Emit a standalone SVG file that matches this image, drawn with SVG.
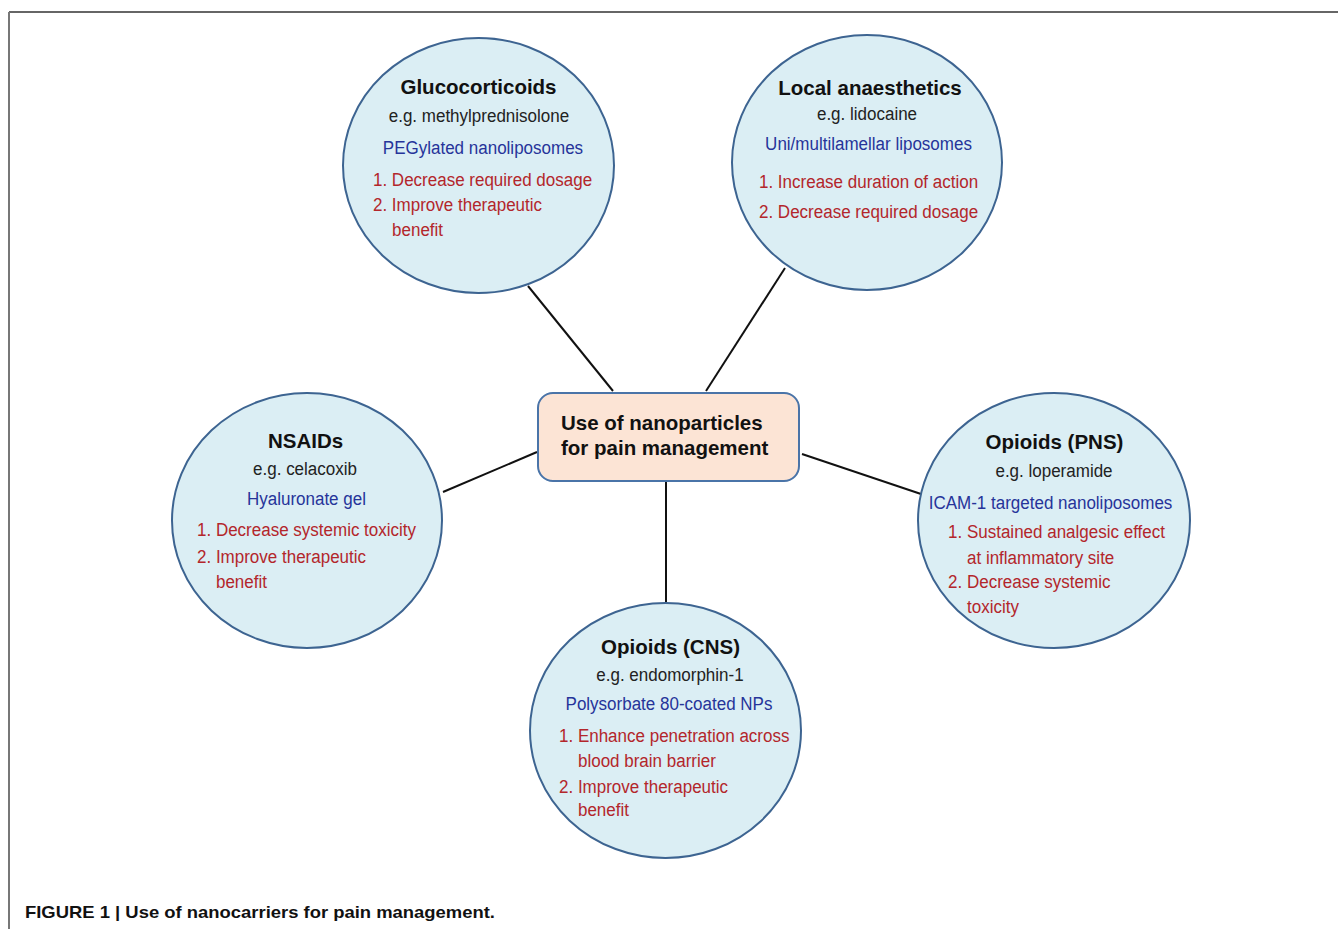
<svg xmlns="http://www.w3.org/2000/svg" width="1338" height="929" viewBox="0 0 1338 929">
<style>
.bub{fill:#dbeef4;stroke:#3d6491;stroke-width:2}
.hub{fill:#fce4d5;stroke:#4a74a8;stroke-width:2}
text{font-family:"Liberation Sans",Arial,sans-serif}
.h{font-size:20.5px;font-weight:bold;fill:#111;text-anchor:middle}
.eg{font-size:19px;fill:#222;text-anchor:middle}
.bl{font-size:19px;fill:#26349a;text-anchor:middle}
.rd{font-size:19px;fill:#b3262b}
.cap{font-size:17px;font-weight:bold;fill:#111}
.ln{stroke:#111;stroke-width:2;fill:none}
</style>
<rect x="0" y="0" width="1338" height="929" fill="#ffffff"/>
<line x1="9" y1="12" x2="1338" y2="12" stroke="#333" stroke-width="1.5"/>
<line x1="9" y1="12" x2="9" y2="929" stroke="#777" stroke-width="2"/>
<g id="connectors">
<line class="ln" x1="528" y1="286" x2="613" y2="391"/>
<line class="ln" x1="785" y1="268" x2="706" y2="391"/>
<line class="ln" x1="443" y1="492" x2="537" y2="452"/>
<line class="ln" x1="802" y1="454" x2="921" y2="494"/>
<line class="ln" x1="666" y1="482" x2="666" y2="602"/>
</g>
<g id="hub">
<rect class="hub" x="538" y="393" width="261" height="88" rx="15"/>
<text class="h" x="561" y="430" style="text-anchor:start">Use of nanoparticles</text>
<text class="h" x="561" y="455" style="text-anchor:start">for pain management</text>
</g>
<g id="glucocorticoids">
<ellipse class="bub" cx="478.5" cy="165.5" rx="135.5" ry="127.5"/>
<text class="h" x="478.5" y="94">Glucocorticoids</text>
<g transform="translate(478.5 0) scale(0.895 1) translate(-478.5 0)">
<text class="eg" x="479" y="122">e.g. methylprednisolone</text>
<text class="bl" x="483.5" y="154">PEGylated nanoliposomes</text>
<text class="rd" x="360.6" y="186">1. Decrease required dosage</text>
<text class="rd" x="360.6" y="211">2. Improve therapeutic</text>
<text class="rd" x="381.9" y="236">benefit</text>
</g>
</g>
<g id="local-anaesthetics">
<ellipse class="bub" cx="867" cy="162.5" rx="135" ry="127.5"/>
<text class="h" x="870" y="95">Local anaesthetics</text>
<g transform="translate(867 0) scale(0.895 1) translate(-867 0)">
<text class="eg" x="867" y="120">e.g. lidocaine</text>
<text class="bl" x="868.7" y="150">Uni/multilamellar liposomes</text>
<text class="rd" x="746.3" y="188">1. Increase duration of action</text>
<text class="rd" x="746.3" y="218">2. Decrease required dosage</text>
</g>
</g>
<g id="nsaids">
<ellipse class="bub" cx="307" cy="520.5" rx="135" ry="127.5"/>
<text class="h" x="305.5" y="448">NSAIDs</text>
<g transform="translate(307 0) scale(0.895 1) translate(-307 0)">
<text class="eg" x="304.8" y="475">e.g. celacoxib</text>
<text class="bl" x="306.4" y="505">Hyaluronate gel</text>
<text class="rd" x="184.1" y="536">1. Decrease systemic toxicity</text>
<text class="rd" x="184.1" y="563">2. Improve therapeutic</text>
<text class="rd" x="205.3" y="588">benefit</text>
</g>
</g>
<g id="opioids-pns">
<ellipse class="bub" cx="1054" cy="520.5" rx="136" ry="127.5"/>
<text class="h" x="1054.5" y="449">Opioids (PNS)</text>
<g transform="translate(1054 0) scale(0.895 1) translate(-1054 0)">
<text class="eg" x="1054" y="477">e.g. loperamide</text>
<text class="bl" x="1050.1" y="509">ICAM-1 targeted nanoliposomes</text>
<text class="rd" x="935.6" y="538">1. Sustained analgesic effect</text>
<text class="rd" x="956.8" y="564">at inflammatory site</text>
<text class="rd" x="935.6" y="588">2. Decrease systemic</text>
<text class="rd" x="956.8" y="613">toxicity</text>
</g>
</g>
<g id="opioids-cns">
<ellipse class="bub" cx="665.5" cy="730.5" rx="135.5" ry="127.5"/>
<text class="h" x="670.5" y="654">Opioids (CNS)</text>
<g transform="translate(665.5 0) scale(0.895 1) translate(-665.5 0)">
<text class="eg" x="670.5" y="681">e.g. endomorphin-1</text>
<text class="bl" x="669.4" y="710">Polysorbate 80-coated NPs</text>
<text class="rd" x="546.5" y="742">1. Enhance penetration across</text>
<text class="rd" x="567.7" y="767">blood brain barrier</text>
<text class="rd" x="546.5" y="793">2. Improve therapeutic</text>
<text class="rd" x="567.7" y="816">benefit</text>
</g>
</g>
<text class="cap" x="25" y="918" textLength="470" lengthAdjust="spacingAndGlyphs">FIGURE 1 | Use of nanocarriers for pain management.</text>
</svg>
